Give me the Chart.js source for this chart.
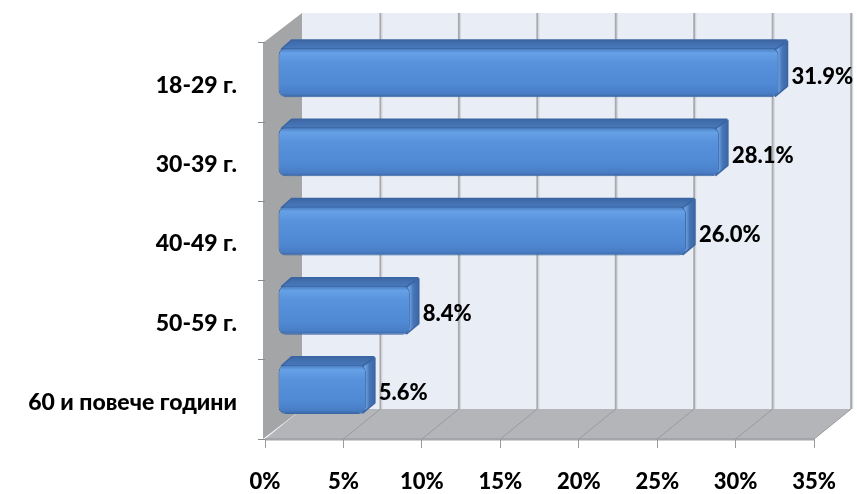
<!DOCTYPE html>
<html>
<head>
<meta charset="utf-8">
<script src="https://cdn.jsdelivr.net/npm/chart.js@4/dist/chart.umd.min.js"></script>
<style>
  html, body { margin: 0; padding: 0; background: #ffffff; }
  #wrap { width: 857px; height: 494px; }
</style>
</head>
<body>
<div id="wrap"><canvas id="chart" width="857" height="494"></canvas></div>
<script>
// Age groups and their share of respondents (%)
const categories = ['18-29 г.', '30-39 г.', '40-49 г.', '50-59 г.', '60 и повече години'];
const shares = [31.9, 28.1, 26.0, 8.4, 5.6];
const axisMin = 0;
const axisMax = 35;
const axisStep = 5;

// 3D look: depth of the walls and placement of the bars inside that depth
const WALL = { dx: 37, dy: -30 };
const SHIFT = { dx: 13, dy: -10 };
const BAR_DEPTH = { dx: 10, dy: -9 };
const BAR_PCT = 0.62;
const FONT = '"Lato", "Open Sans", "DejaVu Sans", sans-serif';
const WEIGHT = 900;

function halfBar(chart) {
  const ys = chart.scales.y;
  return Math.abs(ys.getPixelForValue(1) - ys.getPixelForValue(0)) * BAR_PCT / 2;
}

function frontFill(c) {
  const chart = c.chart;
  const ys = chart.scales && chart.scales.y;
  if (!ys || c.dataIndex === undefined) return '#548cd4';
  const yc = ys.getPixelForValue(c.dataIndex);
  const h = halfBar(chart);
  if (!isFinite(yc) || !isFinite(h) || h <= 0) return '#548cd4';
  const g = chart.ctx.createLinearGradient(0, yc - h, 0, yc + h);
  g.addColorStop(0.00, '#4677bb');
  g.addColorStop(0.10, '#66a0e6');
  g.addColorStop(0.30, '#5892dc');
  g.addColorStop(0.75, '#4f88d3');
  g.addColorStop(0.92, '#497ec6');
  g.addColorStop(1.00, '#3a66a4');
  return g;
}

// Back wall, left wall, floor and their grid lines
const roomPlugin = {
  id: 'room',
  beforeDraw(chart) {
    const ctx = chart.ctx;
    const xs = chart.scales.x;
    const a = chart.chartArea;
    const L = a.left, R = a.right, T = a.top, B = a.bottom;
    ctx.save();
    // back wall
    ctx.fillStyle = '#e9edf5';
    ctx.fillRect(L + WALL.dx, T + WALL.dy, R - L + 2, B - T);
    // left wall
    ctx.fillStyle = '#a4a5a7';
    ctx.beginPath();
    ctx.moveTo(L - 2, B);
    ctx.lineTo(L - 2, T);
    ctx.lineTo(L + WALL.dx, T + WALL.dy);
    ctx.lineTo(L + WALL.dx, B + WALL.dy);
    ctx.closePath();
    ctx.fill();
    // floor
    ctx.fillStyle = '#b3b5b9';
    ctx.beginPath();
    ctx.moveTo(L, B);
    ctx.lineTo(R, B);
    ctx.lineTo(R + WALL.dx, B + WALL.dy);
    ctx.lineTo(L + WALL.dx, B + WALL.dy);
    ctx.closePath();
    ctx.fill();
    // floor front edge
    ctx.fillStyle = '#a2a5aa';
    ctx.fillRect(L, B - 1, R - L, 2.5);
    // grid lines on the back wall and across the floor
    for (let v = axisMin + axisStep; v <= axisMax; v += axisStep) {
      const x = xs.getPixelForValue(v);
      ctx.strokeStyle = '#a9aaad';
      ctx.lineWidth = 2;
      ctx.beginPath();
      ctx.moveTo(x + WALL.dx, T + WALL.dy);
      ctx.lineTo(x + WALL.dx, B + WALL.dy);
      ctx.stroke();
      ctx.strokeStyle = '#d2d5da';
      ctx.lineWidth = 1;
      ctx.beginPath();
      ctx.moveTo(x + WALL.dx + 1.5, T + WALL.dy);
      ctx.lineTo(x + WALL.dx + 1.5, B + WALL.dy);
      ctx.stroke();
      ctx.strokeStyle = '#989a9e';
      ctx.lineWidth = 1;
      ctx.beginPath();
      ctx.moveTo(x, B);
      ctx.lineTo(x + WALL.dx, B + WALL.dy);
      ctx.stroke();
    }
    ctx.restore();
  }
};

// Top faces and end caps of the bars, then the value labels
const barsPlugin = {
  id: 'bars3d',
  beforeDatasetsDraw(chart) {
    const ctx = chart.ctx;
    const meta = chart.getDatasetMeta(0);
    ctx.save();
    ctx.translate(SHIFT.dx, SHIFT.dy);
    meta.data.forEach((bar) => {
      const p = bar.getProps(['x', 'y', 'base', 'height'], true);
      const x0 = p.base, x1 = p.x, yt = p.y - p.height / 2, yb = p.y + p.height / 2;
      ctx.lineJoin = 'round';
      // top face
      const gTop = ctx.createLinearGradient(0, yt + BAR_DEPTH.dy, 0, yt);
      gTop.addColorStop(0, '#3b65a2');
      gTop.addColorStop(1, '#4878bb');
      ctx.fillStyle = gTop;
      ctx.strokeStyle = '#3b65a2';
      ctx.lineWidth = 1.5;
      ctx.beginPath();
      ctx.moveTo(x0 + 3, yt + 1);
      ctx.lineTo(x1 - 2, yt + 1);
      ctx.lineTo(x1 + BAR_DEPTH.dx - 2, yt + BAR_DEPTH.dy + 1);
      ctx.lineTo(x0 + BAR_DEPTH.dx + 3, yt + BAR_DEPTH.dy + 1);
      ctx.closePath();
      ctx.fill();
      ctx.stroke();
      // right cap
      const gCap = ctx.createLinearGradient(x1, 0, x1 + BAR_DEPTH.dx, 0);
      gCap.addColorStop(0, '#6c9fde');
      gCap.addColorStop(0.35, '#4676b8');
      gCap.addColorStop(1, '#3a63a0');
      ctx.fillStyle = gCap;
      ctx.beginPath();
      ctx.moveTo(x1 - 3, yt + 1);
      ctx.lineTo(x1 + BAR_DEPTH.dx - 1, yt + BAR_DEPTH.dy + 2);
      ctx.lineTo(x1 + BAR_DEPTH.dx - 1, yb + BAR_DEPTH.dy - 2);
      ctx.lineTo(x1 - 3, yb - 1);
      ctx.closePath();
      ctx.fill();
      ctx.stroke();
    });
  },
  afterDatasetsDraw(chart) {
    const ctx = chart.ctx;
    ctx.restore();
    const meta = chart.getDatasetMeta(0);
    ctx.save();
    ctx.fillStyle = '#000000';
    ctx.font = WEIGHT + ' 22px ' + FONT;
    ctx.textAlign = 'left';
    ctx.textBaseline = 'middle';
    meta.data.forEach((bar, i) => {
      const p = bar.getProps(['x', 'y'], true);
      const label = shares[i].toFixed(1) + '%';
      ctx.fillText(label, p.x + SHIFT.dx + BAR_DEPTH.dx + 3, p.y + SHIFT.dy + 4);
    });
    ctx.restore();
  }
};

new Chart(document.getElementById('chart'), {
  type: 'bar',
  data: {
    labels: categories,
    datasets: [{
      data: shares,
      backgroundColor: frontFill,
      borderColor: '#3b67a5',
      borderWidth: 1,
      borderSkipped: false,
      borderRadius: 7,
      barPercentage: BAR_PCT,
      categoryPercentage: 1,
      clip: false
    }]
  },
  options: {
    indexAxis: 'y',
    responsive: false,
    animation: false,
    events: [],
    layout: { padding: { left: 6, right: 39, top: 43, bottom: 0 } },
    plugins: {
      legend: { display: false },
      tooltip: { enabled: false }
    },
    scales: {
      x: {
        type: 'linear',
        min: axisMin,
        max: axisMax,
        border: { display: false },
        grid: { drawOnChartArea: false, drawTicks: true, tickLength: 9, color: '#9a9a9a' },
        ticks: {
          stepSize: axisStep,
          padding: 21,
          color: '#000000',
          font: { family: FONT, size: 22, weight: WEIGHT },
          callback: (v) => v + '%'
        },
        afterFit: (s) => { s.height = 55; }
      },
      y: {
        border: { display: false },
        grid: { drawOnChartArea: false, drawTicks: true, tickLength: 7, color: '#8a8a8a' },
        ticks: {
          autoSkip: false,
          padding: 21,
          labelOffset: 3,
          color: '#000000',
          font: { family: FONT, size: 23, weight: WEIGHT }
        },
        afterFit: (s) => { s.width = 259; }
      }
    }
  },
  plugins: [roomPlugin, barsPlugin]
});
</script>
</body>
</html>
